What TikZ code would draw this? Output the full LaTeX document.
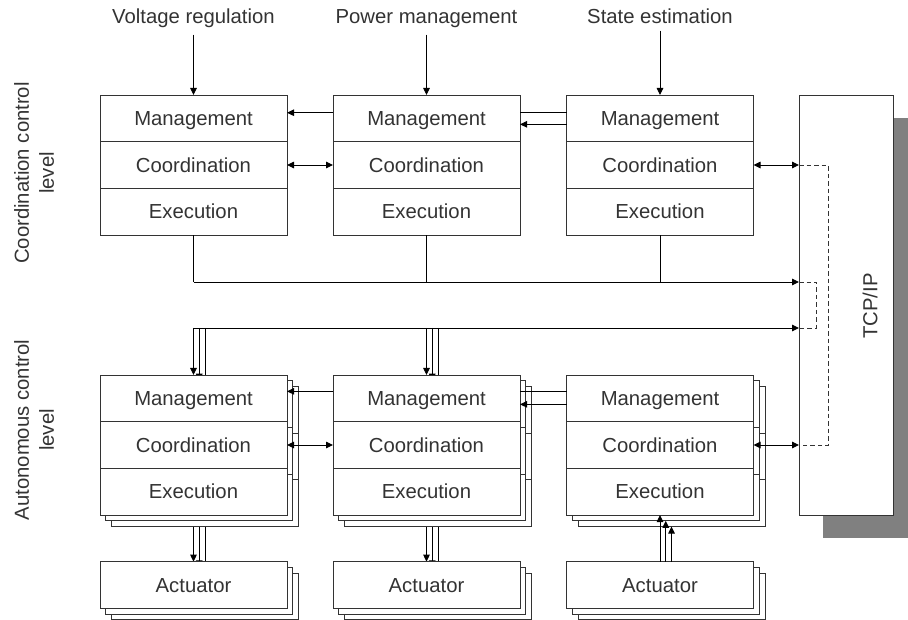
\documentclass[tikz,border=0pt]{standalone}
\usepackage{fontspec}
\setmainfont{Liberation Sans}
\usetikzlibrary{arrows.meta}
\pgfdeclarelayer{behind}
\pgfsetlayers{behind,main}

\definecolor{shadowgray}{RGB}{128,128,128}
\definecolor{inkgray}{RGB}{51,51,51}

\tikzset{
  every node/.style={text=inkgray, font=\fontsize{20.3}{25}\selectfont},
  rowbox/.style={draw=inkgray, line width=0.9pt, fill=white,
    minimum width=187pt, minimum height=46.67pt, inner sep=0pt, outer sep=0pt,
    text height=14.5pt, text depth=0pt, anchor=north west},
  wire/.style={draw=black, line width=0.9pt},
  flow/.style={wire, -{Triangle[length=7pt,width=6.5pt]}},
  duplex/.style={wire, {Triangle[length=7pt,width=6.5pt]}-{Triangle[length=7pt,width=6.5pt]}},
  dashwire/.style={draw=inkgray, line width=0.9pt, dash pattern=on 4.5pt off 3pt},
}

% a three-row control unit with its labels
\newcommand\ctrlunit[3]{%
  \node[rowbox] (#1-m) at (#2,#3) {Management};
  \node[rowbox, anchor=north] (#1-c) at (#1-m.south) {Coordination};
  \node[rowbox, anchor=north] (#1-e) at (#1-c.south) {Execution};}
% an unlabelled copy of a control unit, used for the stacked layers
\newcommand\ctrlback[3]{%
  \node[rowbox] (#1-m) at (#2,#3) {};
  \node[rowbox, anchor=north] (#1-c) at (#1-m.south) {};
  \node[rowbox, anchor=north] (#1-e) at (#1-c.south) {};}

\begin{document}
\begin{tikzpicture}[x=1pt,y=-1pt]
\useasboundingbox (0,0) rectangle (908,620);

% level captions
\node[rotate=90, align=center] (lvlcoord) at (34,173) {Coordination control\\level};
\node[rotate=90, align=center] (lvlauto) at (34,430) {Autonomous control\\level};

% task inputs
\node[anchor=base] (in1) at (193.5,24) {Voltage regulation};
\node[anchor=base] (in2) at (426.5,24) {Power management};
\node[anchor=base] (in3) at (660,24) {State estimation};

% TCP/IP column with its shadow
\fill[shadowgray] (823,118) rectangle (908,538);
\node[draw=inkgray, line width=0.9pt, fill=white, minimum width=94pt,
  minimum height=420pt, anchor=north west, inner sep=0pt, outer sep=0pt] (tcp) at (799,95) {};
\node[rotate=90] (tcplab) at (870,306) {TCP/IP};

% coordination control level
\ctrlunit{T1}{100}{95}
\ctrlunit{T2}{333}{95}
\ctrlunit{T3}{566.5}{95}

% autonomous control level (stacked units)
\ctrlback{L1c}{111.5}{386.5}
\ctrlback{L1b}{105.75}{380.75}
\ctrlunit{L1}{100}{375}
\ctrlback{L2c}{344.5}{386.5}
\ctrlback{L2b}{338.75}{380.75}
\ctrlunit{L2}{333}{375}
\ctrlback{L3c}{578}{386.5}
\ctrlback{L3b}{572.25}{380.75}
\ctrlunit{L3}{566.5}{375}

% actuators (stacked)
\node[rowbox] (A1c) at (111.5,573.2) {};
\node[rowbox] (A1b) at (105.75,567.45) {};
\node[rowbox] (A1) at (100,561.7) {Actuator};
\node[rowbox] (A2c) at (344.5,573.2) {};
\node[rowbox] (A2b) at (338.75,567.45) {};
\node[rowbox] (A2) at (333,561.7) {Actuator};
\node[rowbox] (A3c) at (578,573.2) {};
\node[rowbox] (A3b) at (572.25,567.45) {};
\node[rowbox] (A3) at (566.5,561.7) {Actuator};

% bus lines and loop-back points
\coordinate (busA) at (193.5,282);
\coordinate (busB) at (193.5,328);
\coordinate (loopin) at (816,300);
\coordinate (loopout) at (828,300);

% inputs to the coordination units
\draw[flow, shorten <=3pt] (in1) -- (T1-m);
\draw[flow, shorten <=3pt] (in2) -- (T2-m);
\draw[flow, shorten <=3pt] (in3) -- (T3-m);

% links inside the coordination level
\draw[flow] ([yshift=5.6pt]T2-m.west) -- ([yshift=5.6pt]T1-m.east);
\draw[wire] ([yshift=5.6pt]T3-m.west) -- ([yshift=5.6pt]T2-m.east);
\draw[flow] ([yshift=-6pt]T3-m.west) -- ([yshift=-6pt]T2-m.east);
\draw[duplex] (T1-c) -- (T2-c);
\draw[duplex] (T3-c) -- (tcp.west |- T3-c);

% execution outputs to the network
\draw[wire] (T1-e) -- (busA);
\draw[wire] (T2-e) -- (T2-e |- busA);
\draw[wire] (T3-e) -- (T3-e |- busA);
\draw[flow] (busA) -- (tcp.west |- busA);
\draw[flow] (busB) -- (tcp.west |- busB);
\draw[dashwire] (tcp.west |- busA) -| (loopin |- busB) -- (tcp.west |- busB);
\draw[dashwire] (tcp.west |- T3-c) -| (loopout |- L3-c) -- (tcp.west |- L3-c);

% network to the autonomous units
\draw[flow] (busB) -- (L1-m);
\draw[flow] (L2-m.north |- busB) -- (L2-m);
\begin{pgfonlayer}{behind}
  \draw[flow] (L1b-m.north |- busB) -- (L1b-m.north);
  \draw[flow] (L1c-m.north |- busB) -- (L1c-m.north);
  \draw[flow] (L2b-m.north |- busB) -- (L2b-m.north);
  \draw[flow] (L2c-m.north |- busB) -- (L2c-m.north);
  % execution to actuators
  \draw[flow] (L1-e.south) -- (A1.north);
  \draw[flow] (L1b-e.south) -- (A1b.north);
  \draw[flow] (L1c-e.south) -- (A1c.north);
  \draw[flow] (L2-e.south) -- (A2.north);
  \draw[flow] (L2b-e.south) -- (A2b.north);
  \draw[flow] (L2c-e.south) -- (A2c.north);
\end{pgfonlayer}

% links inside the autonomous level
\draw[flow] ([yshift=7pt]L2-m.west) -- ([yshift=7pt]L1-m.east);
\draw[wire] ([yshift=7pt]L3-m.west) -- ([yshift=7pt]L2-m.east);
\draw[flow] ([yshift=-6pt]L3-m.west) -- ([yshift=-6pt]L2-m.east);
\draw[duplex] (L1-c) -- (L2-c);
\draw[duplex] (L3-c) -- (tcp.west |- L3-c);

% sensing actuators feeding back
\draw[flow] (A3.north) -- (L3-e.south);
\draw[flow] (L3b-e.south |- A3.north) -- (L3b-e.south);
\draw[flow] (L3c-e.south |- A3.north) -- (L3c-e.south);
\end{tikzpicture}
\end{document}
